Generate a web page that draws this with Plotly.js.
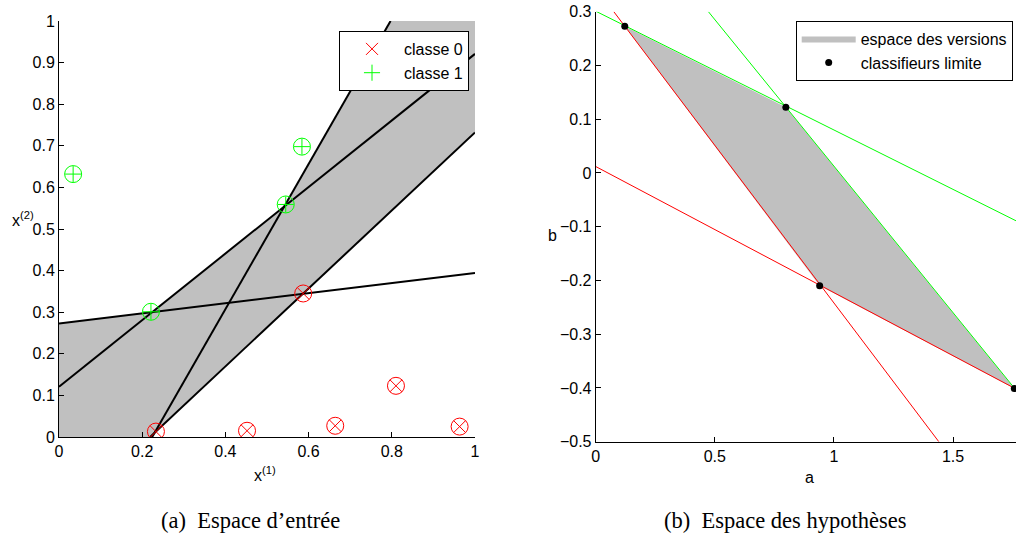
<!DOCTYPE html>
<html>
<head>
<meta charset="utf-8">
<script src="https://cdn.plot.ly/plotly-3.0.1.min.js"></script>
<style>html,body{margin:0;padding:0;background:#fff;}#chart{width:1016px;height:534px;}</style>
</head>
<body>
<div id="chart"></div>
<script>
// ---------- (a) Espace d'entrée ----------
var classe0_x = [0.233, 0.452, 0.664, 0.810, 0.963, 0.587];
var classe0_y = [0.013, 0.015, 0.027, 0.123, 0.025, 0.345];
var classe1_x = [0.034, 0.584, 0.545, 0.221];
var classe1_y = [0.632, 0.698, 0.559, 0.301];

// separating lines (endpoints)
var sep1_x = [0, 1],         sep1_y = [0.273, 0.394];
var sep2_x = [0, 1],         sep2_y = [0.121, 0.921];
var sep3_x = [0.224, 0.797], sep3_y = [0, 1];
var sep4_x = [0.219, 1],     sep4_y = [0, 0.732];

// grey region in input space
var zone_x = [0, 0.219, 1, 1, 0.797, 0.542, 0.224, 0, 0];
var zone_y = [0, 0, 0.732, 1, 1, 0.555, 0.300, 0.273, 0];

var xtick_a = [0, 0.2, 0.4, 0.6, 0.8, 1];
var xtext_a = ['0', '0.2', '0.4', '0.6', '0.8', '1'];
var ytick_a = [0, 0.1, 0.2, 0.3, 0.4, 0.5, 0.6, 0.7, 0.8, 0.9, 1];
var ytext_a = ['0', '0.1', '0.2', '0.3', '0.4', '0.5', '0.6', '0.7', '0.8', '0.9', '1'];

// ---------- (b) Espace des hypothèses ----------
var verte1_a = [0, 1.764],     verte1_b = [0.301, -0.089];
var verte2_a = [0.473, 1.764], verte2_b = [0.300, -0.404];
var rouge1_a = [0.076, 1.440], rouge1_b = [0.300, -0.500];
var rouge2_a = [0, 1.764],     rouge2_b = [0.012, -0.402];

var versions_a = [0.122, 0.798, 1.757, 0.940, 0.122];
var versions_b = [0.273, 0.122, -0.401, -0.210, 0.273];

var limite_a = [0.122, 0.798, 0.940, 1.757];
var limite_b = [0.273, 0.122, -0.210, -0.401];

var xtick_b = [0, 0.5, 1, 1.5];
var xtext_b = ['0', '0.5', '1', '1.5'];
var ytick_b = [-0.5, -0.4, -0.3, -0.2, -0.1, 0, 0.1, 0.2, 0.3];
var ytext_b = ['\u22120.5', '\u22120.4', '\u22120.3', '\u22120.2', '\u22120.1', '0', '0.1', '0.2', '0.3'];

var GREY = '#c0c0c0', RED = '#ff0000', GREEN = '#00ff00';
var FONT = 'Liberation Sans, Arial, Helvetica, sans-serif';

function blackLine(x, y) {
  return {x: x, y: y, type: 'scatter', mode: 'lines', line: {color: '#000', width: 2},
          showlegend: false, hoverinfo: 'skip', xaxis: 'x', yaxis: 'y'};
}
function thinLine(x, y, c) {
  return {x: x, y: y, type: 'scatter', mode: 'lines', line: {color: c, width: 1},
          showlegend: false, hoverinfo: 'skip', xaxis: 'x2', yaxis: 'y2'};
}

var traces = [
  {x: zone_x, y: zone_y, type: 'scatter', mode: 'lines', fill: 'toself', fillcolor: GREY,
   line: {width: 0, color: GREY}, showlegend: false, hoverinfo: 'skip', xaxis: 'x', yaxis: 'y'},
  blackLine(sep1_x, sep1_y), blackLine(sep2_x, sep2_y), blackLine(sep3_x, sep3_y), blackLine(sep4_x, sep4_y),
  {x: classe0_x, y: classe0_y, type: 'scatter', mode: 'markers', showlegend: false,
   marker: {symbol: 'circle-open', size: 17, color: RED, line: {width: 1, color: RED}}, xaxis: 'x', yaxis: 'y'},
  {x: classe0_x, y: classe0_y, type: 'scatter', mode: 'markers', name: 'classe 0', legend: 'legend',
   marker: {symbol: 'x-thin-open', size: 12, color: RED, line: {width: 1, color: RED}}, xaxis: 'x', yaxis: 'y'},
  {x: classe1_x, y: classe1_y, type: 'scatter', mode: 'markers', showlegend: false,
   marker: {symbol: 'circle-open', size: 17, color: GREEN, line: {width: 1, color: GREEN}}, xaxis: 'x', yaxis: 'y'},
  {x: classe1_x, y: classe1_y, type: 'scatter', mode: 'markers', name: 'classe 1', legend: 'legend',
   marker: {symbol: 'cross-thin-open', size: 11.5, color: GREEN, line: {width: 1, color: GREEN}}, xaxis: 'x', yaxis: 'y'},

  {x: versions_a, y: versions_b, type: 'scatter', mode: 'lines', fill: 'toself', fillcolor: GREY,
   line: {width: 0, color: GREY}, name: 'espace des versions', legend: 'legend2', hoverinfo: 'skip',
   xaxis: 'x2', yaxis: 'y2'},
  thinLine(rouge1_a, rouge1_b, RED), thinLine(rouge2_a, rouge2_b, RED),
  thinLine(verte1_a, verte1_b, GREEN), thinLine(verte2_a, verte2_b, GREEN),
  {x: limite_a, y: limite_b, type: 'scatter', mode: 'markers', name: 'classifieurs limite', legend: 'legend2',
   marker: {symbol: 'circle', size: 7, color: '#000'}, xaxis: 'x2', yaxis: 'y2'}
];

function axis(extra) {
  var base = {showline: true, linecolor: '#000', linewidth: 1, ticks: 'inside', ticklen: 5,
              tickcolor: '#000', tickwidth: 1, showgrid: false, zeroline: false, tickmode: 'array',
              tickfont: {family: FONT, size: 16, color: '#000'}, fixedrange: true, automargin: false};
  for (var k in extra) base[k] = extra[k];
  return base;
}

var W = 1016, H = 534;
function px(v) { return v / W; }
function py(v) { return (H - v) / H; }

var legendCommon = {bgcolor: '#fff', bordercolor: '#000', borderwidth: 1,
                    font: {family: FONT, size: 16, color: '#000'}, xanchor: 'left', yanchor: 'top',
                    tracegroupgap: 0, itemwidth: 54};

var layout = {
  width: W, height: H,
  margin: {l: 0, r: 0, t: 0, b: 0, pad: 0, autoexpand: false},
  paper_bgcolor: '#fff', plot_bgcolor: 'rgba(0,0,0,0)',
  xaxis: axis({domain: [px(59), px(475)], range: [0, 1], tickvals: xtick_a, ticktext: xtext_a, anchor: 'y'}),
  yaxis: axis({domain: [py(437), py(21)], range: [0, 1], tickvals: ytick_a, ticktext: ytext_a, anchor: 'x'}),
  xaxis2: axis({domain: [px(595.7), 1], range: [0, 1.764], tickvals: xtick_b, ticktext: xtext_b, anchor: 'y2'}),
  yaxis2: axis({domain: [py(441.7), py(11.7)], range: [-0.5, 0.3], tickvals: ytick_b, ticktext: ytext_b, anchor: 'x2'}),
  legend: Object.assign({x: px(339), y: py(31)}, legendCommon),
  legend2: Object.assign({x: px(795.7), y: py(20.7)}, legendCommon),
  showlegend: true,
  annotations: [
    {text: 'x<sup>(1)</sup>', x: px(265), y: py(474), xref: 'paper', yref: 'paper', showarrow: false,
     xanchor: 'center', yanchor: 'middle', font: {family: FONT, size: 16, color: '#000'}},
    {text: 'x<sup>(2)</sup>', x: px(23), y: py(219), xref: 'paper', yref: 'paper', showarrow: false,
     xanchor: 'center', yanchor: 'middle', font: {family: FONT, size: 16, color: '#000'}},
    {text: 'a', x: px(809), y: py(477), xref: 'paper', yref: 'paper', showarrow: false,
     xanchor: 'center', yanchor: 'middle', font: {family: FONT, size: 16, color: '#000'}},
    {text: 'b', x: px(552), y: py(236), xref: 'paper', yref: 'paper', showarrow: false,
     xanchor: 'center', yanchor: 'middle', font: {family: FONT, size: 16, color: '#000'}},
    {text: '(a)\u00a0 Espace d\u2019entrée', x: px(250), y: py(520), xref: 'paper', yref: 'paper', showarrow: false,
     xanchor: 'center', yanchor: 'middle', font: {family: 'Liberation Serif, Times New Roman, serif', size: 22.5, color: '#000'}},
    {text: '(b)\u00a0 Espace des hypothèses', x: px(785), y: py(520), xref: 'paper', yref: 'paper', showarrow: false,
     xanchor: 'center', yanchor: 'middle', font: {family: 'Liberation Serif, Times New Roman, serif', size: 22.5, color: '#000'}}
  ]
};

Plotly.newPlot('chart', traces, layout, {displayModeBar: false, staticPlot: true});
</script>
</body>
</html>
